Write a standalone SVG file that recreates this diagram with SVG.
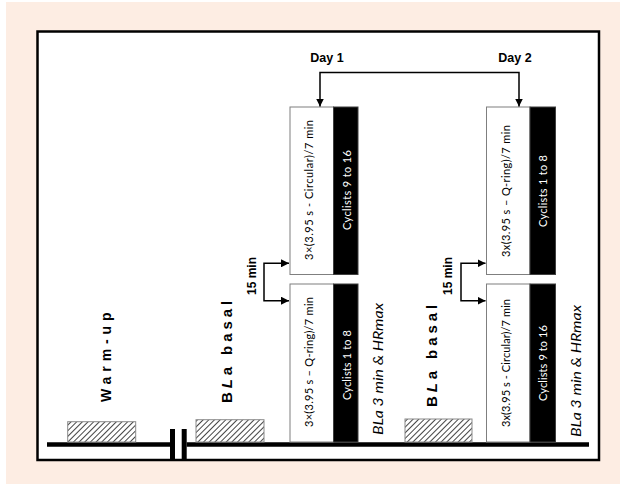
<svg xmlns="http://www.w3.org/2000/svg" width="620" height="484" viewBox="0 0 620 484">
<defs>
<pattern id="hatch" width="4" height="4" patternUnits="userSpaceOnUse" patternTransform="rotate(45)">
<rect width="4" height="4" fill="#ffffff"/>
<line x1="0" y1="0" x2="0" y2="4" stroke="#444444" stroke-width="2"/>
</pattern>
<marker id="ah" viewBox="0 0 10 10" refX="10" refY="5" markerWidth="8" markerHeight="8" markerUnits="userSpaceOnUse" orient="auto-start-reverse">
<path d="M0,0 L10,5 L0,10 Z" fill="#000"/>
</marker>
<style>
.wbox{fill:#ffffff;stroke:#7f7f7f;stroke-width:1}
.bbox{fill:#000000;stroke:#3f3f3f;stroke-width:1}
.hb{fill:url(#hatch);stroke:#8a8a8a;stroke-width:1}
.bt{font-family:"Lato","Liberation Sans",sans-serif;font-size:11px;fill:#000}
.ct{font-family:"Lato","Liberation Sans",sans-serif;font-size:11px;fill:#ffffff}
.it{font-family:"Lato","Liberation Sans",sans-serif;font-size:14px;font-style:italic;fill:#000}
.bold{font-family:"Liberation Sans",Arial,sans-serif;font-weight:bold;fill:#000}
.conn{fill:none;stroke:#000;stroke-width:1.5}
</style>
</defs>
<rect x="6" y="2" width="614" height="482" fill="#FDEDE3"/>
<rect x="37.5" y="31.5" width="561.5" height="428.5" fill="#ffffff" stroke="#000" stroke-width="2.5"/>

<g id="timeline">
<line x1="47" y1="444.5" x2="170" y2="444.5" stroke="#000" stroke-width="4.5"/>
<line x1="186.7" y1="444.5" x2="589" y2="444.5" stroke="#000" stroke-width="4.5"/>
<rect x="170" y="429" width="5" height="30" fill="#000"/>
<rect x="181.7" y="429" width="5" height="30" fill="#000"/>
</g>

<g id="warmup">
<rect class="hb" x="67.7" y="421.7" width="68" height="20.3"/>
<text class="bold" font-size="14" letter-spacing="4.9" transform="translate(111,402) rotate(-90)">Warm-up</text>
</g>

<g id="bla-basal-1">
<rect class="hb" x="196" y="419.7" width="68" height="22.3"/>
<text class="bold" font-size="15" letter-spacing="3.9" transform="translate(232,403) rotate(-90)">B<tspan font-style="italic">L</tspan>a basal</text>
</g>

<g id="bla-basal-2">
<rect class="hb" x="405" y="419" width="67" height="23"/>
<text class="bold" font-size="15" letter-spacing="3.9" transform="translate(437,407) rotate(-90)">B<tspan font-style="italic">L</tspan>a basal</text>
</g>

<g id="day1-label"><text class="bold" font-size="12.5" x="327" y="62" text-anchor="middle">Day 1</text></g>
<g id="day2-label"><text class="bold" font-size="12.5" x="515" y="62" text-anchor="middle">Day 2</text></g>

<g id="day1-top">
<rect class="wbox" x="290" y="107" width="43.5" height="167.5"/>
<rect class="bbox" x="333.5" y="107" width="24.5" height="167.5"/>
<text class="bt" text-anchor="middle" textLength="140" lengthAdjust="spacing" transform="translate(312.5,190) rotate(-90)">3×(3.95 s - Circular)/7 min</text>
<text class="ct" text-anchor="middle" textLength="80" lengthAdjust="spacing" transform="translate(351,190) rotate(-90)">Cyclists 9 to 16</text>
</g>

<g id="day1-bottom">
<rect class="wbox" x="290" y="284" width="43.5" height="158"/>
<rect class="bbox" x="333.5" y="284" width="24.5" height="158"/>
<text class="bt" text-anchor="middle" textLength="130" lengthAdjust="spacing" transform="translate(312.5,362) rotate(-90)">3×(3.95 s – Q-ring)/7 min</text>
<text class="ct" text-anchor="middle" textLength="70" lengthAdjust="spacing" transform="translate(351,365) rotate(-90)">Cyclists 1 to 8</text>
</g>

<g id="day2-top">
<rect class="wbox" x="486.5" y="107" width="43.5" height="167.5"/>
<rect class="bbox" x="530" y="107" width="25.5" height="167.5"/>
<text class="bt" text-anchor="middle" textLength="132" lengthAdjust="spacing" transform="translate(509.5,191) rotate(-90)">3x(3.95 s – Q-ring)/7 min</text>
<text class="ct" text-anchor="middle" textLength="72" lengthAdjust="spacing" transform="translate(547,191) rotate(-90)">Cyclists 1 to 8</text>
</g>

<g id="day2-bottom">
<rect class="wbox" x="486.5" y="284" width="43.5" height="158"/>
<rect class="bbox" x="530" y="284" width="25.5" height="158"/>
<text class="bt" text-anchor="middle" textLength="128" lengthAdjust="spacing" transform="translate(509.5,363) rotate(-90)">3x(3.95 s - Circular)/7 min</text>
<text class="ct" text-anchor="middle" textLength="76" lengthAdjust="spacing" transform="translate(547,363) rotate(-90)">Cyclists 9 to 16</text>
</g>

<g id="bla3-1"><text class="it" text-anchor="middle" textLength="132" lengthAdjust="spacingAndGlyphs" transform="translate(383,369) rotate(-90)">BLa 3 min &amp; HRmax</text></g>
<g id="bla3-2"><text class="it" text-anchor="middle" textLength="132" lengthAdjust="spacingAndGlyphs" transform="translate(581,371) rotate(-90)">BLa 3 min &amp; HRmax</text></g>

<g id="rest1"><text class="bold" font-size="12" text-anchor="middle" transform="translate(255.5,276) rotate(-90)">15 min</text></g>
<g id="rest2"><text class="bold" font-size="12" text-anchor="middle" transform="translate(452,276) rotate(-90)">15 min</text></g>

<g id="connectors">
<path class="conn" d="M320,106.5 V72.5 H519 V106.5" marker-start="url(#ah)" marker-end="url(#ah)"/>
<path class="conn" d="M289,263.3 H264 V300.7 H289" marker-start="url(#ah)" marker-end="url(#ah)"/>
<path class="conn" d="M485.5,263.3 H461 V300.7 H485.5" marker-start="url(#ah)" marker-end="url(#ah)"/>
</g>
</svg>
